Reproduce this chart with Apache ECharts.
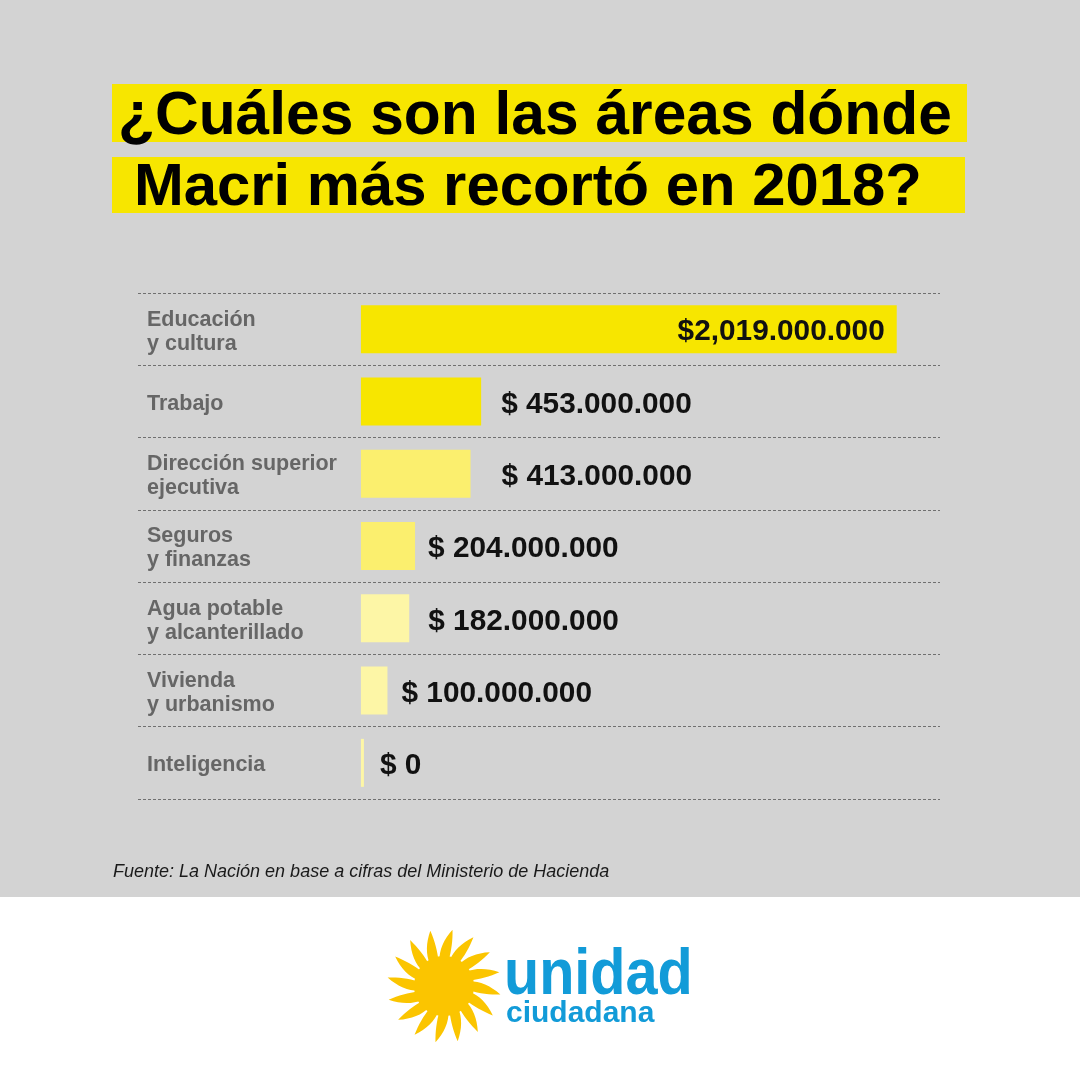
<!DOCTYPE html>
<html>
<head>
<meta charset="utf-8">
<script src="https://cdn.jsdelivr.net/npm/echarts@6/dist/echarts.min.js"></script>
<style>html,body{margin:0;padding:0;background:#d3d3d3}#chart{width:1080px;height:1080px}</style>
</head>
<body>
<div id="chart"></div>
<script>
// ---- data ----
const categories = ['Educación\ny cultura', 'Trabajo', 'Dirección superior\nejecutiva', 'Seguros\ny finanzas', 'Agua potable\ny alcanterillado', 'Vivienda\ny urbanismo', 'Inteligencia'];
const values = [2019, 453, 413, 204, 182, 100, 0]; // millones de pesos
const valueLabels = ['$2,019.000.000', '$ 453.000.000', '$ 413.000.000', '$ 204.000.000', '$ 182.000.000', '$ 100.000.000', '$ 0'];
const titleLines = ['¿Cuáles son las áreas dónde', 'Macri más recortó en 2018?'];
const sourceText = 'Fuente: La Nación en base a cifras del Ministerio de Hacienda';

// ---- styles ----
const barColors = ['#f7e600', '#f7e600', '#fbef6e', '#fbef6e', '#fdf6a6', '#fdf6a6', '#fdf6a6'];
const labelGaps = [12, 20, 31, 13, 19, 14, 16];
const FONT = '"Liberation Sans", Arial, Helvetica, sans-serif';
const catFont = {color: '#666666', fontFamily: FONT, fontWeight: 'bold', fontSize: 21.5, lineHeight: 24};

const chart = echarts.init(document.getElementById('chart'), null, {renderer: 'canvas'});

// sun outline for logo (decorative)
function quad(p0, c, p1, steps, out) {
  for (let s = 1; s <= steps; s++) {
    const t = s / steps, u = 1 - t;
    out.push([u * u * p0[0] + 2 * u * t * c[0] + t * t * p1[0], u * u * p0[1] + 2 * u * t * c[1] + t * t * p1[1]]);
  }
}
function sunPoints(cx, cy, r0, r1, n) {
  const pts = [];
  const P = (r, a) => [cx + r * Math.cos(a), cy + r * Math.sin(a)];
  for (let i = 0; i < n; i++) {
    const a = -Math.PI / 2 + i * 2 * Math.PI / n;
    const h = Math.PI / n * 0.9;
    const b1 = P(r0, a - h), tip = P(r1, a + 0.15), b2 = P(r0, a + h);
    const rm = (r0 + r1) / 2;
    const c1 = P(rm, a - 0.12), c2 = P(rm, a + h + 0.04);
    pts.push(b1);
    quad(b1, c1, tip, 8, pts);
    quad(tip, c2, b2, 8, pts);
  }
  return pts;
}

const option = {
  backgroundColor: '#d3d3d3',
  animation: false,
  grid: {left: 138, right: 140, top: 293, bottom: 281, containLabel: false, outerBoundsMode: 'none'},
  xAxis: {type: 'value', min: -840, max: 2182, show: false},
  yAxis: {
    type: 'category', data: categories, inverse: true,
    axisLine: {show: false}, axisTick: {show: false},
    splitLine: {show: true, lineStyle: {color: '#707070', width: 1, type: [3, 2]}},
    axisLabel: Object.assign({
      inside: true, margin: 9, align: 'left',
      formatter: (v) => v.split('\n').map((s) => '{c|' + s + '}').join('\n'),
      rich: {c: Object.assign({padding: [5, 0, 0, 0]}, catFont)}
    }, catFont)
  },
  series: [{
    type: 'bar', barWidth: 48, barMinHeight: 3,
    data: values.map((v, i) => ({
      value: v,
      itemStyle: {color: barColors[i]},
      label: {
        show: true,
        position: i === 0 ? 'insideRight' : 'right',
        distance: labelGaps[i],
        offset: [0, 3],
        formatter: valueLabels[i],
        color: '#111', fontFamily: FONT, fontWeight: 'bold', fontSize: 29.8
      }
    }))
  }],
  graphic: [
    {type: 'rect', shape: {x: 0, y: 897, width: 1080, height: 183}, style: {fill: '#ffffff'}, silent: true},
    {type: 'rect', shape: {x: 112, y: 84, width: 855, height: 58}, style: {fill: '#f7e600'}, silent: true},
    {type: 'rect', shape: {x: 112, y: 157, width: 853, height: 56}, style: {fill: '#f7e600'}, silent: true},
    {type: 'text', x: 118, y: 117, style: {text: titleLines[0], fill: '#000', font: 'bold 60.5px ' + FONT, verticalAlign: 'middle'}},
    {type: 'text', x: 134, y: 189, style: {text: titleLines[1], fill: '#000', font: 'bold 59.8px ' + FONT, verticalAlign: 'middle'}},
    {type: 'text', x: 113, y: 872, style: {text: sourceText, fill: '#1a1a1a', font: 'italic 18px ' + FONT, verticalAlign: 'middle'}},
    {type: 'polygon', shape: {points: sunPoints(444, 986, 26, 57, 16)}, style: {fill: '#fbc500'}, silent: true},
    {type: 'circle', shape: {cx: 444, cy: 986, r: 30}, style: {fill: '#fbc500'}, silent: true},
    {type: 'text', x: 504, y: 1008, scaleX: 0.9, style: {text: 'unidad', fill: '#129bd8', font: 'bold 64px ' + FONT, verticalAlign: 'bottom'}},
    {type: 'text', x: 506, y: 1029, style: {text: 'ciudadana', fill: '#129bd8', font: 'bold 30px ' + FONT, verticalAlign: 'bottom'}}
  ]
};
chart.setOption(option);
</script>
</body>
</html>
